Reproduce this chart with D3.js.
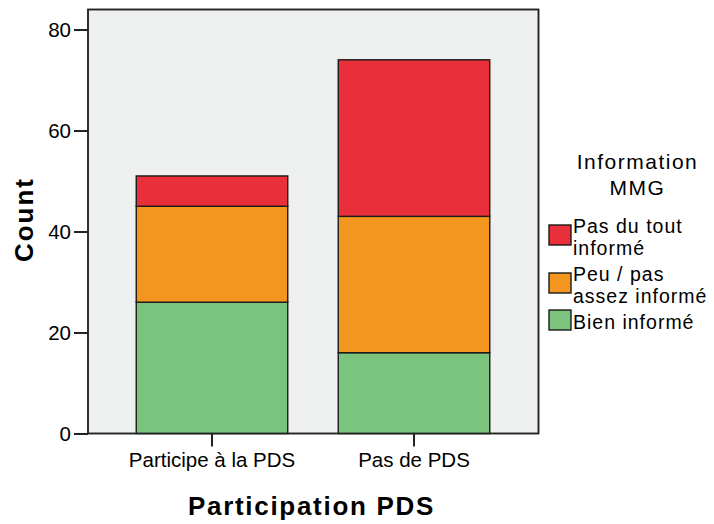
<!DOCTYPE html>
<html><head><meta charset="utf-8">
<script src="https://cdn.jsdelivr.net/npm/d3@7"></script>
<style>
html,body{margin:0;padding:0;background:#fff;}
text{font-family:"Liberation Sans",Arial,sans-serif;fill:#000;}
</style></head>
<body><svg id="c" width="714" height="524"></svg>
<script>
const categories = ["Participe à la PDS", "Pas de PDS"];
const seriesNames = ["Bien informé", "Peu / pas assez informé", "Pas du tout informé"];
const bienInforme = [26, 16];
const peuInforme = [19, 27];
const pasDuToutInforme = [6, 31];
const yTicks = [0, 20, 40, 60, 80];
const legendLabels = [["Pas du tout", "informé"], ["Peu / pas", "assez informé"], ["Bien informé"]];
const legendTitle = ["Information", "MMG"];
const xTitle = "Participation PDS";
const yTitle = "Count";
const colors = ["#7AC47E", "#F2961F", "#E9303A"];

const svg = d3.select("#c");
const frame = {l: 88, r: 538.5, t: 9.5, b: 433.5};

const x = d3.scaleBand().domain(categories).range([111, 515]).paddingInner(0.25).paddingOuter(0.125);
const y = d3.scaleLinear().domain([0, 80]).range([frame.b, 29.5]);

svg.append("rect").attr("x", frame.l).attr("y", frame.t)
  .attr("width", frame.r - frame.l).attr("height", frame.b - frame.t)
  .attr("fill", "#EEEFEF").attr("stroke", "#222").attr("stroke-width", 1.5);

const table = categories.map((c, i) => ({cat: c, s0: bienInforme[i], s1: peuInforme[i], s2: pasDuToutInforme[i]}));
const stack = d3.stack().keys(["s0", "s1", "s2"])(table);

svg.append("g").selectAll("g").data(stack).join("g")
  .attr("fill", (d, i) => colors[i])
  .selectAll("rect").data(d => d).join("rect")
  .attr("x", d => x(d.data.cat))
  .attr("width", x.bandwidth())
  .attr("y", d => y(d[1]))
  .attr("height", d => y(d[0]) - y(d[1]))
  .attr("stroke", "#1a1a1a").attr("stroke-width", 1.4);

// axes
const yAxis = svg.append("g").attr("transform", `translate(${frame.l},0)`)
  .call(d3.axisLeft(y).tickValues(yTicks).tickSize(14).tickPadding(3));
yAxis.select(".domain").remove();
yAxis.selectAll("line").attr("stroke", "#222").attr("stroke-width", 2);
yAxis.selectAll("text").attr("font-size", "20.5px").attr("font-family", "Liberation Sans, Arial").attr("fill", "#111");

const xAxis = svg.append("g").attr("transform", `translate(0,${frame.b})`)
  .call(d3.axisBottom(x).tickSize(13).tickPadding(6));
xAxis.select(".domain").remove();
xAxis.selectAll("line").attr("stroke", "#222").attr("stroke-width", 2);
xAxis.selectAll("text").attr("font-size", "20.5px").attr("font-family", "Liberation Sans, Arial").attr("fill", "#111");

// redraw frame on top
svg.append("rect").attr("x", frame.l).attr("y", frame.t)
  .attr("width", frame.r - frame.l).attr("height", frame.b - frame.t)
  .attr("fill", "none").attr("stroke", "#222").attr("stroke-width", 1.5);

svg.append("text").attr("x", 311.5).attr("y", 515).attr("text-anchor", "middle")
  .attr("font-size", "26px").attr("font-weight", "bold").attr("letter-spacing", "1.7px").text(xTitle);
svg.append("text").attr("transform", "translate(33,219.5) rotate(-90)").attr("text-anchor", "middle")
  .attr("font-size", "26px").attr("font-weight", "bold").attr("letter-spacing", "2px").text(yTitle);

// legend
const lg = svg.append("g");
lg.selectAll("text.title").data(legendTitle).join("text").attr("class", "title")
  .attr("x", 637.5).attr("y", (d, i) => 168.5 + i * 26.5).attr("text-anchor", "middle")
  .attr("font-size", "21px").attr("letter-spacing", "1.5px").attr("fill", "#111").text(d => d);

const swatchY = [225, 273, 310];
const legColors = [colors[2], colors[1], colors[0]];
const items = lg.selectAll("g.item").data(legendLabels).join("g").attr("class", "item")
  .attr("transform", (d, i) => `translate(549,${swatchY[i]})`);
items.append("rect").attr("width", 22).attr("height", 20)
  .attr("fill", (d, i) => legColors[i]).attr("stroke", "#1a1a1a").attr("stroke-width", 1.4);
items.each(function(lines, i) {
  const g = d3.select(this);
  const first = lines.length === 1 ? 19 : (i === 0 ? 8 : 7.5);
  const gap = 22;
  g.selectAll("text").data(lines).join("text")
    .attr("x", 24).attr("y", (d, j) => first + j * gap)
    .attr("font-size", "19.5px").attr("letter-spacing", "1px").attr("fill", "#111").text(d => d);
});
</script></body></html>
